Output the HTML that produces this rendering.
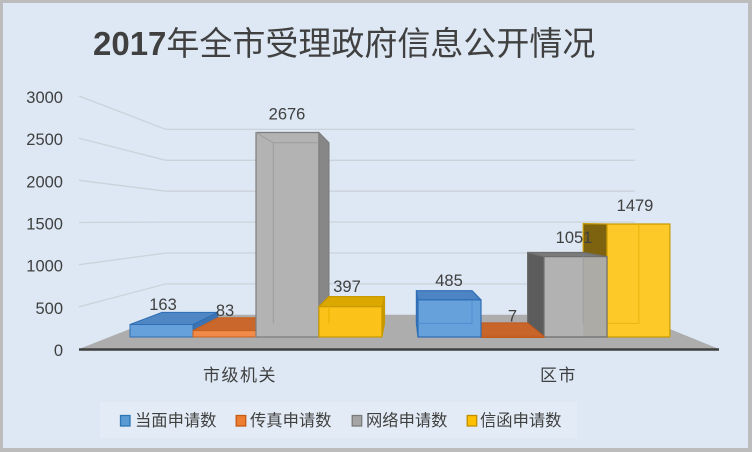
<!DOCTYPE html>
<html><head><meta charset="utf-8"><style>
html,body{margin:0;padding:0;background:#dde8f4;}
svg{display:block;}
text{font-family:"Liberation Sans","Noto Sans CJK SC",sans-serif;fill:#404040;}
</style></head><body>
<svg width="752" height="452" viewBox="0 0 752 452" xmlns="http://www.w3.org/2000/svg">
<rect x="0" y="0" width="752" height="452" fill="#bcbcbc"/>
<rect x="3" y="3" width="745" height="445" fill="#dde8f4"/>

<!-- title -->
<text x="93" y="55" font-size="33"><tspan font-weight="bold">2017</tspan><tspan font-family="'Noto Sans CJK SC',sans-serif">年全市受理政府信息公开情况</tspan></text>

<!-- gridlines left wall -->
<g stroke="#cbd2da" stroke-width="1.3" fill="none">
<polyline points="79,306.8 165.8,283.9 634.9,283.9"/>
<polyline points="79,264.7 165.8,253.0 634.9,253.0"/>
<polyline points="79,222.5 165.8,222.1 634.9,222.1"/>
<polyline points="79,180.3 165.8,191.2 634.9,191.2"/>
<polyline points="79,138.2 165.8,160.3 634.9,160.3"/>
<polyline points="79,96.0 165.8,129.4 634.9,129.4"/>
</g>

<!-- floor -->
<polygon points="79,349 719,349 634.9,314.8 165.8,314.8" fill="#adadad"/>
<line x1="79" y1="349.5" x2="719" y2="349.5" stroke="#3f3f3f" stroke-width="2.5"/>

<!-- y axis labels -->
<g font-size="16.5" text-anchor="end">
<text x="63" y="356">0</text>
<text x="63" y="313.8">500</text>
<text x="63" y="271.7">1000</text>
<text x="63" y="229.5">1500</text>
<text x="63" y="187.3">2000</text>
<text x="63" y="145.2">2500</text>
<text x="63" y="103">3000</text>
</g>

<!-- ===== Group 1 ===== -->
<!-- blue 163 -->
<g stroke="#2f6eb5" stroke-width="1" stroke-linejoin="round">
<polygon points="193,324.5 217.7,312.4 217.7,323.4 193,337" fill="#3d73b0"/>
<polygon points="130,324.5 193,324.5 217.7,312.4 162.1,312.4" fill="#4f86c4"/>
<polygon points="130,324.5 193,324.5 193,337 130,337" fill="#67a1dc"/>
</g>
<!-- orange 83 -->
<g stroke="#c8601c" stroke-width="1" stroke-linejoin="round">
<polygon points="256,330.6 273.3,317.8 273.3,323.4 256,337" fill="#b9561c"/>
<polygon points="193,330.6 256,330.6 273.3,317.8 217.7,317.8" fill="#c9672c"/>
<polygon points="193,330.6 256,330.6 256,337 193,337" fill="#f28b4a"/>
</g>
<!-- gray 2676 -->
<g stroke="#7d7d7d" stroke-width="1.2" stroke-linejoin="round">
<polygon points="318.9,132.5 328.9,142.8 328.9,323.4 318.9,337" fill="#878787"/>
<polygon points="256,132.5 318.9,132.5 318.9,337 256,337" fill="#b3b3b3"/>
</g>
<g stroke="#9c9c9c" stroke-width="1" fill="none">
<polyline points="273.3,323.4 273.3,142.8 318.9,142.8"/>
<line x1="256" y1="132.5" x2="273.3" y2="142.8"/>
</g>
<!-- yellow 397 -->
<g stroke="#c99a00" stroke-width="1.2" stroke-linejoin="round">
<polygon points="381.9,306.6 384.5,296.6 384.5,323.4 381.9,337" fill="#c99a00"/>
<polygon points="318.9,306.6 381.9,306.6 384.5,296.6 328.9,296.6" fill="#dba800"/>
<polygon points="318.9,306.6 381.9,306.6 381.9,337 318.9,337" fill="#fbc21a"/>
</g>
<line x1="328.9" y1="306.6" x2="328.9" y2="323.4" stroke="#e8b000" stroke-width="1"/>

<!-- ===== Group 2 ===== -->
<!-- yellow 1479 -->
<g stroke="#c99a00" stroke-width="1.2" stroke-linejoin="round">
<polygon points="607,224 583.2,223.6 583.2,323.4 607,337" fill="#7d6310"/>
<polygon points="607,224 669.9,224 669.9,337 607,337" fill="#fdc928"/>
</g>
<g stroke="#e9b40c" stroke-width="1" fill="none">
<polyline points="607,323.4 638.8,323.4 638.8,224"/>
</g>
<!-- gray 1051 -->
<g stroke="#6e6e6e" stroke-width="1.2" stroke-linejoin="round">
<polygon points="544,256.7 527.6,252.5 527.6,323.4 544,337" fill="#5c5c5c"/>
<polygon points="544,256.7 607,256.7 583.2,252.5 527.6,252.5" fill="#7a7a7a"/>
<polygon points="544,256.7 607,256.7 607,337 544,337" fill="#b2b2b2"/>
</g>
<rect x="583.2" y="257.5" width="23" height="79" fill="#8a7a50" opacity="0.12"/>
<line x1="583.2" y1="256.7" x2="583.2" y2="323.4" stroke="#a0a0a0" stroke-width="1"/>
<!-- orange 7 -->
<g stroke="#c05a1c" stroke-width="1" stroke-linejoin="round">
<polygon points="481,336.4 544,336.4 527.6,322.9 472,322.9" fill="#c8652b"/>
<polygon points="481,336.4 544,336.4 544,337.5 481,337.5" fill="#f08a48"/>
</g>
<!-- blue 485 -->
<g stroke="#2f6eb5" stroke-width="1.2" stroke-linejoin="round">
<polygon points="418,299.9 416.4,290.7 416.4,323.4 418,337" fill="#3d73b0"/>
<polygon points="418,299.9 481,299.9 472,290.7 416.4,290.7" fill="#4d84c3"/>
<polygon points="418,299.9 481,299.9 481,337 418,337" fill="#67a1dc"/>
</g>
<polyline points="418,323.4 472,323.4 472,299.9" stroke="#4f8cd0" stroke-width="1" fill="none"/>

<!-- data labels -->
<g font-size="16.5" text-anchor="middle">
<text x="163" y="310">163</text>
<text x="225" y="316">83</text>
<text x="287" y="119.5">2676</text>
<text x="347" y="292">397</text>
<text x="449" y="286">485</text>
<text x="512.5" y="321.5">7</text>
<text x="574" y="243">1051</text>
<text x="635" y="211">1479</text>
</g>

<!-- category labels -->
<g font-size="17" font-family="'Noto Sans CJK SC',sans-serif" letter-spacing="1.5">
<text x="203" y="381">市级机关</text>
<text x="540" y="381">区市</text>
</g>

<!-- legend -->
<rect x="100" y="402" width="477" height="36" fill="#e3ecf6"/>
<rect x="120.5" y="415.5" width="9.5" height="10.5" fill="#5b9bd5" stroke="#2e75b6" stroke-width="1.3"/>
<rect x="236.2" y="415.5" width="9.5" height="10.5" fill="#ed7d31" stroke="#c55a11" stroke-width="1.3"/>
<rect x="352.2" y="415.5" width="9.5" height="10.5" fill="#a5a5a5" stroke="#7b7b7b" stroke-width="1.3"/>
<rect x="467.2" y="415.5" width="9.5" height="10.5" fill="#ffc000" stroke="#bf9000" stroke-width="1.3"/>
<g font-size="16.3" font-family="'Noto Sans CJK SC',sans-serif">
<text x="135" y="426">当面申请数</text>
<text x="250" y="426">传真申请数</text>
<text x="366" y="426">网络申请数</text>
<text x="480" y="426">信函申请数</text>
</g>
</svg>
</body></html>
